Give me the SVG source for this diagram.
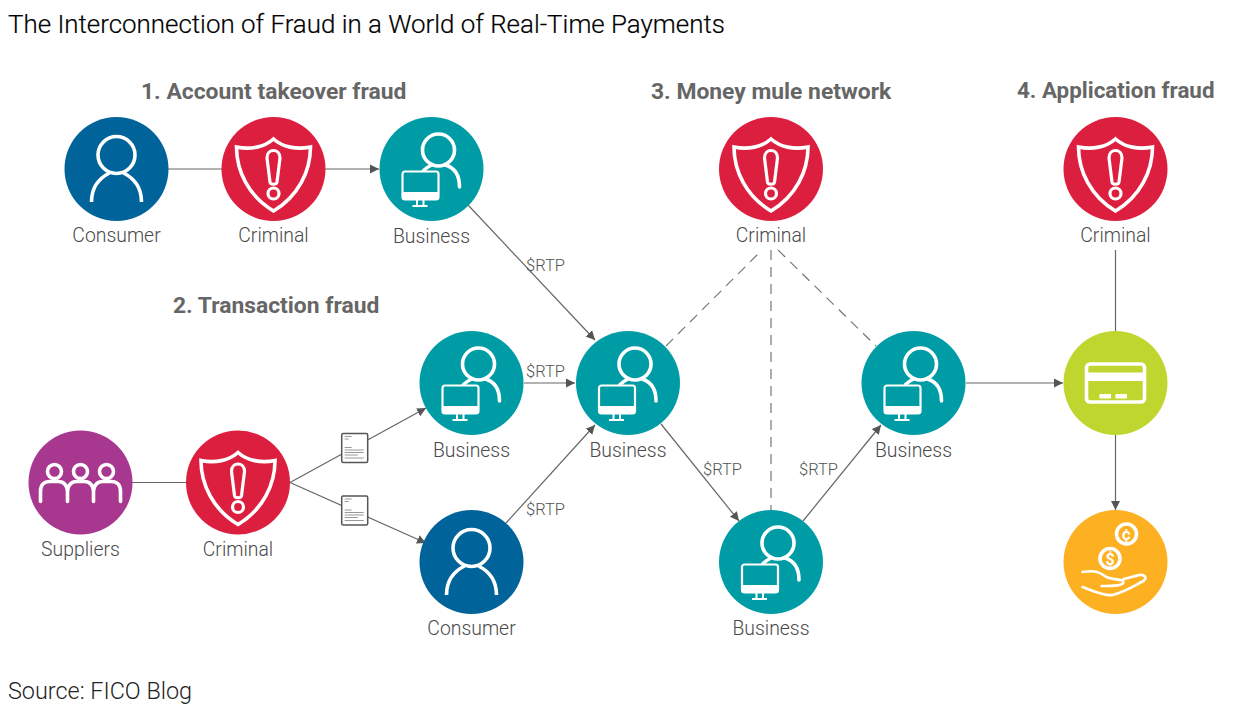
<svg xmlns="http://www.w3.org/2000/svg" width="1238" height="718" viewBox="0 0 1238 718">
<style>
text{font-family:Roboto,"Liberation Sans",sans-serif}
.title{font-size:25.9px;font-weight:300;fill:#000;stroke:#000;stroke-width:.2}
.source{font-size:23.4px;font-weight:300;fill:#222}
.head{font-size:22.85px;font-weight:700;fill:#666}
.lbl{font-size:19.4px;font-weight:300;fill:#4a4a4a;text-anchor:middle}
.rtp{font-size:16.5px;font-weight:300;fill:#555;text-anchor:middle}
.ln{stroke:#666;stroke-width:1.2;fill:none}
.arr{marker-end:url(#a)}
.dash{stroke:#777;stroke-width:1.2;fill:none;stroke-dasharray:10 7}
.ic{fill:none;stroke:#fff;stroke-width:3.6;stroke-linecap:round;stroke-linejoin:round}
.thin{fill:none;stroke:#fff;stroke-width:2}
.w{fill:#fff}
.doc{fill:#fff;stroke:#555;stroke-width:1.5}
.dl{stroke:#999;stroke-width:1;fill:none}
</style>
<defs>
<marker id="a" markerUnits="userSpaceOnUse" markerWidth="10" markerHeight="10" refX="9" refY="5" orient="auto"><path d="M0 .5L9 5L0 9.500z" fill="#555"/></marker>
<symbol id="consumer" overflow="visible"><circle r="52" fill="#00639a"/><circle cy="-14" r="18.500" class="ic"/><path class="ic" style="stroke-linecap:butt" d="M-25 33C-25 17-17 9-7 4M25 33C25 17 17 9 7 4"/></symbol>
<symbol id="criminal" overflow="visible"><circle r="52" fill="#dc1f3e"/><path class="ic" style="stroke-linejoin:miter" d="M0-30C-9-22-23-19-37-22C-37 2-25 27 0 42C25 27 37 2 37-22C23-19 9-22 0-30Z"/><path class="ic" style="stroke-width:3.200" d="M-6.500-11C-6.500-21 6.500-21 6.500-11L3.500 13C3 16-3 16-3.500 13Z"/><circle cy="24.500" r="5.500" class="ic" style="stroke-width:3.200"/></symbol>
<symbol id="business" overflow="visible"><circle r="52" fill="#009ca6"/><circle cx="7" cy="-19" r="16" class="ic"/><path class="ic" d="M28 18C28 8 24-1 14-4M-8 1.500Q-4-2 0-4"/><rect x="-29" y="2.500" width="36" height="28" rx="2.500" fill="#009ca6" stroke="#fff" stroke-width="2.200"/><path d="M-29 23H7V28Q7 30.500 4.500 30.500H-26.500Q-29 30.500-29 28z" class="w"/><path class="thin" d="M-14.500 30V36M-8 30V36M-19 37H-4"/></symbol>
<symbol id="suppliers" overflow="visible"><circle r="52" fill="#a8388f"/><g class="ic"><circle cx="-26" cy="-11" r="7"/><circle cy="-11" r="7"/><circle cx="26" cy="-11" r="7"/><path d="M-40 19V9C-40 2-36-1-31-1H-22C-17-1-13 3-13 9V19M-13 9C-13 3-9-1-4-1H4C9-1 13 3 13 9V19M13 9C13 3 17-1 22-1H31C36-1 40 2 40 9V19"/></g></symbol>
<symbol id="card" overflow="visible"><circle r="52" fill="#bfd62f"/><rect x="-29" y="-19" width="58" height="38" rx="3.500" class="ic"/><rect x="-29" y="-10.500" width="58" height="8.500" class="w"/><rect x="-16" y="11" width="11.500" height="4.500" class="w"/><rect x="0" y="11" width="11.500" height="4.500" class="w"/></symbol>
<symbol id="coins" overflow="visible"><circle r="52" fill="#fdb022"/><circle cx="11" cy="-28" r="10" class="ic"/><circle cx="-5.500" cy="-3.500" r="10" class="ic"/><text x="11" y="-22" font-size="17" font-weight="700" fill="#fff" text-anchor="middle">¢</text><text x="-5.500" y="2.500" font-size="16" font-weight="700" fill="#fff" text-anchor="middle">$</text><path class="ic" style="stroke-width:2.600" d="M-33 10C-20 8-17 10-9 15C-3 18 8 17 8 20C8 23 2 24-14 24M8 17C14 16 24 12 27 13C31 15 31 16 28 19C20 23 10 30-3 33C-12 34-22 29-33 25"/></symbol>
<symbol id="docicon" overflow="visible"><rect x="-13" y="-14.500" width="26" height="29" rx="1.500" class="doc"/><path class="dl" d="M-10-11.500H-3M-10-9H-6M-10-.5H-3M-10 2H9M-10 4.500H9M-10 7H3M-10 10H9"/></symbol>
</defs>
<text class="title" x="8" y="33">The Interconnection of Fraud in a World of Real-Time Payments</text>
<text class="source" x="8" y="699">Source: FICO Blog</text>
<text class="head" x="141" y="99">1. Account takeover fraud</text>
<text class="head" x="173" y="313">2. Transaction fraud</text>
<text class="head" x="651" y="99">3. Money mule network</text>
<text class="head" x="1017" y="98" style="font-size:22.4px">4. Application fraud</text>
<g id="connectors">
<path class="ln" d="M168 169H222"/>
<path class="ln arr" d="M325 169H379"/>
<path class="ln arr" d="M468 205L595 340"/>
<path class="ln arr" d="M524 383H575"/>
<path class="ln arr" d="M506 523L595 425"/>
<path class="ln" d="M132 482.500H187"/>
<path class="ln arr" d="M290 482.500L426 408"/>
<path class="ln arr" d="M290 482.500L426 543"/>
<path class="ln arr" d="M661 424L739 521"/>
<path class="ln arr" d="M803 521L881 425"/>
<path class="ln arr" d="M966 383H1063"/>
<path class="ln" d="M1115.500 250V331"/>
<path class="ln arr" d="M1115.500 435V510"/>
<path class="dash" d="M666 346L762 250"/>
<path class="dash" d="M771 250V510"/>
<path class="dash" d="M778 250L876 346"/>
</g>
<g id="consumer-1"><use href="#consumer" x="116.500" y="169"/><text class="lbl" x="116.500" y="242">Consumer</text></g>
<g id="criminal-1"><use href="#criminal" x="273.500" y="169"/><text class="lbl" x="273.500" y="242">Criminal</text></g>
<g id="business-1"><use href="#business" x="431.500" y="169"/><text class="lbl" x="431.500" y="243">Business</text></g>
<g id="criminal-3"><use href="#criminal" x="771" y="169"/><text class="lbl" x="771" y="242">Criminal</text></g>
<g id="criminal-4"><use href="#criminal" x="1115.500" y="169"/><text class="lbl" x="1115.500" y="242">Criminal</text></g>
<g id="business-2"><use href="#business" x="471.500" y="383"/><text class="lbl" x="471.500" y="457">Business</text></g>
<g id="business-hub"><use href="#business" x="628" y="383"/><text class="lbl" x="628" y="457">Business</text></g>
<g id="business-3"><use href="#business" x="913.500" y="383"/><text class="lbl" x="913.500" y="457">Business</text></g>
<g id="business-4"><use href="#business" x="771" y="562"/><text class="lbl" x="771" y="635">Business</text></g>
<g id="suppliers-node"><use href="#suppliers" x="80.500" y="482.500"/><text class="lbl" x="80.500" y="556">Suppliers</text></g>
<g id="criminal-2"><use href="#criminal" x="238" y="482.500"/><text class="lbl" x="238" y="556">Criminal</text></g>
<g id="consumer-2"><use href="#consumer" x="471.500" y="562"/><text class="lbl" x="471.500" y="635">Consumer</text></g>
<g id="card-node"><use href="#card" x="1115.500" y="383"/></g>
<g id="coins-node"><use href="#coins" x="1115.500" y="562"/></g>
<g id="doc-1"><use href="#docicon" x="354.700" y="448"/></g>
<g id="doc-2"><use href="#docicon" x="354.700" y="510.500"/></g>
<g id="rtp-labels">
<text class="rtp" x="545.500" y="271">$RTP</text>
<text class="rtp" x="545.500" y="377">$RTP</text>
<text class="rtp" x="545.500" y="515">$RTP</text>
<text class="rtp" x="722.500" y="475">$RTP</text>
<text class="rtp" x="818.500" y="475">$RTP</text>
</g>
</svg>
